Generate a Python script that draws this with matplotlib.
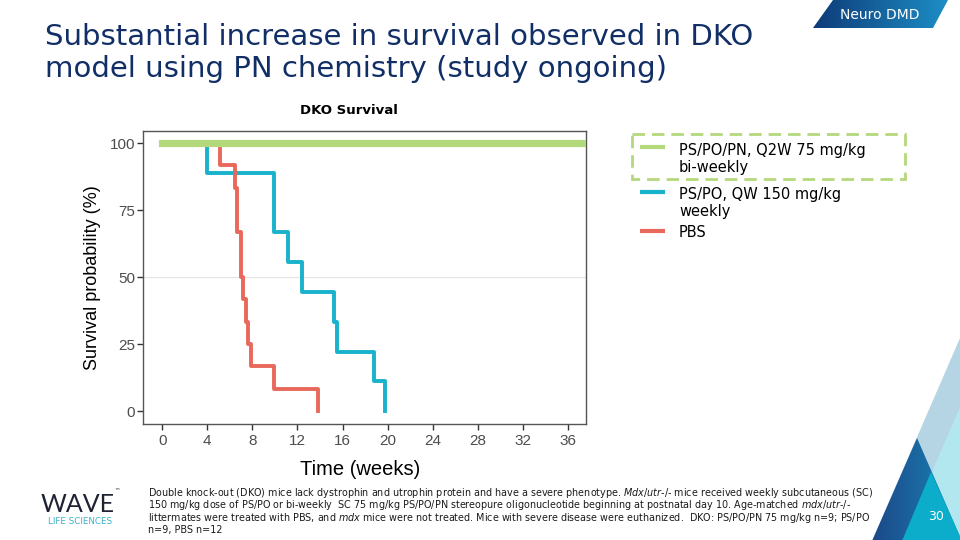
import numpy as np
import matplotlib
matplotlib.use("Agg")
import matplotlib.pyplot as plt
from matplotlib.patches import Polygon, Rectangle
from matplotlib.colors import LinearSegmentedColormap

plt.rcParams['font.family'] = ['DejaVu Sans']
plt.rcParams['mathtext.fontset'] = 'custom'
plt.rcParams['mathtext.rm'] = 'DejaVu Sans'
plt.rcParams['mathtext.it'] = 'DejaVu Sans:italic'

# Kaplan-Meier steps (weeks, % surviving)
pn_weeks = [0, 38]
pn_surv = [100, 100]
po_weeks = [0, 4.0, 9.95, 11.2, 12.4, 15.2, 15.5, 18.8, 19.8]
po_surv = [100, 88.9, 66.7, 55.6, 44.4, 33.3, 22.2, 11.1, 0]
pbs_weeks = [0, 5.15, 6.45, 6.6, 7.0, 7.15, 7.45, 7.6, 7.9, 9.95, 13.8]
pbs_surv = [100, 91.7, 83.3, 66.7, 50.0, 41.7, 33.3, 25.0, 16.7, 8.3, 0]

series_labels = ["PS/PO/PN, Q2W 75 mg/kg\nbi-weekly", "PS/PO, QW 150 mg/kg\nweekly", "PBS"]
series_colors = ["#b4d87c", "#19b2cc", "#e8695b"]
x_ticks = list(range(0, 37, 4))
y_ticks = [0, 25, 50, 75, 100]

title_lines = ["Substantial increase in survival observed in DKO",
               "model using PN chemistry (study ongoing)"]
footnote = [
    r"Double knock-out (DKO) mice lack dystrophin and utrophin protein and have a severe phenotype. $\mathit{Mdx/utr}$-/- mice received weekly subcutaneous (SC)",
    r"150 mg/kg dose of PS/PO or bi-weekly  SC 75 mg/kg PS/PO/PN stereopure oligonucleotide beginning at postnatal day 10. Age-matched $\mathit{mdx/utr}$-/-",
    r"littermates were treated with PBS, and $\mathit{mdx}$ mice were not treated. Mice with severe disease were euthanized.  DKO: PS/PO/PN 75 mg/kg n=9; PS/PO",
    "n=9, PBS n=12",
]

W, H = 960, 540
fig = plt.figure(figsize=(9.6, 5.4), dpi=100)

# background layer in pixel coordinates for the slide decorations
bg = fig.add_axes([0, 0, 1, 1], zorder=0)
bg.axis("off")


def grad_poly(ax, verts, c1, c2, z):
    poly = Polygon(verts, closed=True, fc="none", ec="none", zorder=z)
    ax.add_patch(poly)
    xs = [v[0] for v in verts]
    ys = [v[1] for v in verts]
    cmap = LinearSegmentedColormap.from_list("g", [c1, c2])
    grad = np.linspace(0, 1, 256).reshape(1, -1)
    im = ax.imshow(grad, cmap=cmap, extent=[min(xs), max(xs), max(ys), min(ys)],
                   aspect="auto", interpolation="bicubic", zorder=z)
    im.set_clip_path(poly)


# top-right tab
grad_poly(bg, [(813, 28), (833, 0), (948, 0), (933, 28)], "#0e3b78", "#1d8ec6", 1)
bg.text(880, 15, "Neuro DMD", color="white", fontsize=10, ha="center", va="center", zorder=5)

# bottom-right triangles, back to front
bg.add_patch(Polygon([(960, 338), (872, 541), (961, 541)], closed=True, fc="#b5d5e4", ec="none", zorder=1))
bg.add_patch(Polygon([(960, 407), (902, 541), (961, 541)], closed=True, fc="#b2e7f0", ec="none", zorder=2))
grad_poly(bg, [(917, 438), (872, 541), (962, 541)], "#1c4888", "#1a86b8", 3)
bg.add_patch(Polygon([(931, 472), (902, 541), (962, 541)], closed=True, fc="#0badcb", ec="none", zorder=4))
bg.text(936, 517, "30", color="white", fontsize=9, ha="center", va="center", zorder=5)

# title
bg.text(45, 45, title_lines[0], color="#112f66", fontsize=21, ha="left", va="baseline")
bg.text(45, 77, title_lines[1], color="#112f66", fontsize=21, ha="left", va="baseline")

# logo
bg.text(41, 512, "WAVE", color="#1f2233", fontsize=18, family=["Lato", "DejaVu Sans"],
        ha="left", va="baseline")
bg.text(114, 492, "\u2122", color="#1f2233", fontsize=4, ha="left", va="center")
bg.text(80, 522, "LIFE SCIENCES", color="#3ab0c8", fontsize=6.3, ha="center", va="center")

# footnote
for i, line in enumerate(footnote):
    bg.text(148, 493 + i * 12.4, line, fontsize=6.9, color="#1a1a1a", ha="left", va="center")

# chart title
bg.text(349, 110, "DKO Survival", fontsize=9.5, fontweight="bold", ha="center", va="center")

# legend, drawn by hand so the handles sit on the first text line
leg_y = [147, 192, 231]
txt_y = [151, 195, 233]
for lab, col, hy, ty in zip(series_labels, series_colors, leg_y, txt_y):
    bg.plot([640, 665], [hy, hy], color=col, lw=3, solid_capstyle="butt")
    bg.text(679, ty - 8, lab, fontsize=10.5, ha="left", va="top", linespacing=1.15)
bg.add_patch(Rectangle((632, 134), 273, 45, fill=False, ec=series_colors[0], lw=2,
                       ls=(0, (4.5, 2.5))))

bg.set_xlim(0, W)
bg.set_ylim(H, 0)

# survival plot
left, right, top, bottom = 143, 586, 131, 424
ax = fig.add_axes([left / W, 1 - bottom / H, (right - left) / W, (bottom - top) / H], zorder=1)
ax.axhline(50, color="#e6e6e6", lw=1, zorder=0)
ax.plot(po_weeks, po_surv, drawstyle="steps-post", color=series_colors[1], lw=2.8, zorder=2)
ax.plot(pbs_weeks, pbs_surv, drawstyle="steps-post", color=series_colors[2], lw=2.8, zorder=2)
ax.plot(pn_weeks, pn_surv, drawstyle="steps-post", color=series_colors[0], lw=5.2,
        solid_capstyle="projecting", zorder=3)

ax.set_xlim(-1.7, 37.6)
ax.set_ylim(-4.8, 104.5)
ax.set_xticks(x_ticks)
ax.set_yticks(y_ticks)
ax.tick_params(axis="both", labelsize=11, labelcolor="#4d4d4d", color="#333333",
               length=4, width=1, direction="out")
ax.tick_params(axis="y", pad=1.5)
for lab in ax.get_xticklabels() + ax.get_yticklabels():
    lab.set_family(["Liberation Sans", "DejaVu Sans"])
for sp in ax.spines.values():
    sp.set_color("#555555")
    sp.set_linewidth(1)
ax.set_ylabel("Survival probability (%)", fontsize=13, family=["Liberation Sans", "DejaVu Sans"])
ax.set_xlabel("Time (weeks)", fontsize=14.5, family=["Liberation Sans", "DejaVu Sans"])
ax.yaxis.set_label_coords(-0.095, 0.5)
ax.xaxis.set_label_coords(0.49, -0.122)

fig.savefig("out.png", dpi=100)
